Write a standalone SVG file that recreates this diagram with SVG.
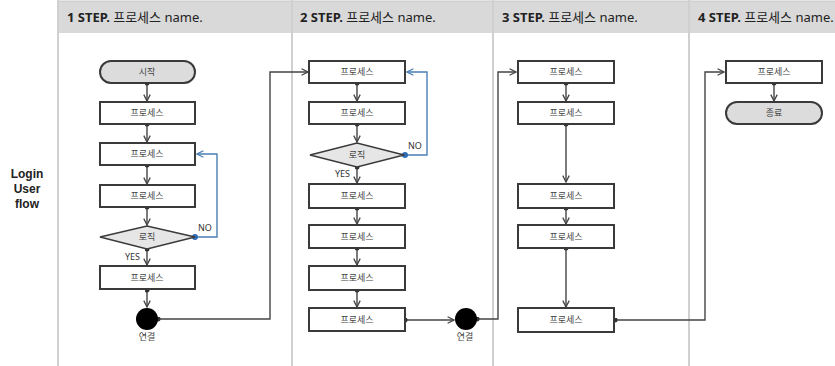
<svg xmlns="http://www.w3.org/2000/svg" width="835" height="366" viewBox="0 0 835 366">
<defs>
<style>
.hdr{fill:#d9d9d9}
.col{stroke:#d0d0d0;stroke-width:2;fill:none}
.ht{font-family:"Noto Sans","Noto Sans CJK KR",sans-serif;font-size:13px;fill:#222}
.ht .b{font-weight:bold}
.box{fill:#fff;stroke:#3a3a3a;stroke-width:2}
.term{fill:#dcdcdc;stroke:#3a3a3a;stroke-width:2}
.dia{fill:#e6e6e6;stroke:#3a3a3a;stroke-width:1.5}
.nt{font-family:"Noto Sans CJK KR","Noto Sans",sans-serif;font-size:9px;fill:#444;text-anchor:middle}
.lb{font-family:"Noto Sans","Noto Sans CJK KR",sans-serif;font-size:9px;fill:#333}
.side{font-family:"Liberation Sans",Arial,sans-serif;font-size:12px;font-weight:bold;fill:#222;text-anchor:middle}
.e{fill:none;stroke:#444;stroke-width:1.4;marker-start:url(#dot);marker-end:url(#arr)}
.eb{fill:none;stroke:#4a7fb5;stroke-width:1.4;marker-start:url(#dotb);marker-end:url(#arrb)}
.conn{fill:#000}
</style>
<marker id="dot" viewBox="0 0 8 8" refX="4" refY="4" markerWidth="5" markerHeight="5" markerUnits="userSpaceOnUse"><circle cx="4" cy="4" r="4" fill="#333"/></marker>
<marker id="dotb" viewBox="0 0 8 8" refX="4" refY="4" markerWidth="6" markerHeight="6" markerUnits="userSpaceOnUse"><circle cx="4" cy="4" r="4" fill="#2e6db4"/></marker>
<marker id="arr" viewBox="0 0 10 10" refX="9" refY="5" markerWidth="8" markerHeight="8" markerUnits="userSpaceOnUse" orient="auto"><path d="M1,1 L9,5 L1,9" fill="none" stroke="#444" stroke-width="1.6"/></marker>
<marker id="arrb" viewBox="0 0 10 10" refX="9" refY="5" markerWidth="8" markerHeight="8" markerUnits="userSpaceOnUse" orient="auto"><path d="M1,1 L9,5 L1,9" fill="none" stroke="#4a7fb5" stroke-width="1.6"/></marker>
</defs>
<rect width="835" height="366" fill="#fff"/>
<g id="header">
<rect class="hdr" x="58" y="1" width="777" height="32"/>
<line x1="58" y1="1" x2="835" y2="1" stroke="#c8c8c8" stroke-width="1"/>
<line class="col" x1="58" y1="0" x2="58" y2="366"/>
<line class="col" x1="292" y1="0" x2="292" y2="366"/>
<line class="col" x1="493" y1="0" x2="493" y2="366"/>
<line class="col" x1="689" y1="0" x2="689" y2="366"/>
<text class="ht" x="67" y="22"><tspan class="b">1 STEP.</tspan> 프로세스 name.</text>
<text class="ht" x="300" y="22"><tspan class="b">2 STEP.</tspan> 프로세스 name.</text>
<text class="ht" x="502" y="22"><tspan class="b">3 STEP.</tspan> 프로세스 name.</text>
<text class="ht" x="698" y="22"><tspan class="b">4 STEP.</tspan> 프로세스 name.</text>
<text class="side" x="27" y="178">Login</text>
<text class="side" x="27" y="193">User</text>
<text class="side" x="27" y="208">flow</text>
</g>
<g id="connectors">
<path class="e" d="M147,83 V101"/>
<path class="e" d="M147,124 V142"/>
<path class="e" d="M147,165 V184"/>
<path class="e" d="M147,207 V225"/>
<path class="e" d="M147,249 V265"/>
<path class="e" d="M147,290 V307"/>
<path class="eb" d="M195,237 H217 V154 H197"/>
<path class="e" d="M158,319 H270 V72 H308"/>
<path class="e" d="M357,83 V101"/>
<path class="e" d="M357,124 V142"/>
<path class="e" d="M357,167 V183"/>
<path class="e" d="M357,208 V224"/>
<path class="e" d="M357,248 V265"/>
<path class="e" d="M357,290 V307"/>
<path class="eb" d="M405,155 H427 V72 H407"/>
<path class="e" d="M405,320 H454"/>
<path class="e" d="M477,319 H498 V72 H516"/>
<path class="e" d="M566,83 V101"/>
<path class="e" d="M566,124 V182"/>
<path class="e" d="M566,208 V224"/>
<path class="e" d="M566,248 V307"/>
<path class="e" d="M615,320 H705 V72 H724"/>
<path class="e" d="M774,83 V101"/>
</g>
<g id="c1-start"><rect class="term" x="100" y="61" width="95" height="22" rx="11"/><text class="nt" x="147" y="75">시작</text></g>
<g id="c1-p1"><rect class="box" x="100" y="102" width="95" height="22"/><text class="nt" x="147" y="116">프로세스</text></g>
<g id="c1-p2"><rect class="box" x="100" y="143" width="95" height="22"/><text class="nt" x="147" y="157">프로세스</text></g>
<g id="c1-p3"><rect class="box" x="100" y="185" width="95" height="22"/><text class="nt" x="147" y="199">프로세스</text></g>
<g id="c1-logic"><polygon class="dia" points="100,237 147,226 195,237 147,249"/><text class="nt" x="147" y="240">로직</text><text class="lb" x="198" y="231">NO</text><text class="lb" x="125" y="260">YES</text></g>
<g id="c1-p4"><rect class="box" x="100" y="266" width="95" height="23"/><text class="nt" x="147" y="281">프로세스</text></g>
<g id="c1-link"><circle class="conn" cx="147" cy="319" r="11"/><text class="nt" x="147" y="340">연결</text></g>
<g id="c2-p1"><rect class="box" x="309" y="61" width="96" height="22"/><text class="nt" x="357" y="75">프로세스</text></g>
<g id="c2-p2"><rect class="box" x="309" y="102" width="96" height="22"/><text class="nt" x="357" y="116">프로세스</text></g>
<g id="c2-logic"><polygon class="dia" points="310,155 357,143 404,155 357,167"/><text class="nt" x="357" y="158">로직</text><text class="lb" x="408" y="149">NO</text><text class="lb" x="335" y="177">YES</text></g>
<g id="c2-p3"><rect class="box" x="309" y="184" width="96" height="24"/><text class="nt" x="357" y="199">프로세스</text></g>
<g id="c2-p4"><rect class="box" x="309" y="225" width="96" height="23"/><text class="nt" x="357" y="240">프로세스</text></g>
<g id="c2-p5"><rect class="box" x="309" y="266" width="96" height="24"/><text class="nt" x="357" y="281">프로세스</text></g>
<g id="c2-p6"><rect class="box" x="309" y="308" width="96" height="23"/><text class="nt" x="357" y="323">프로세스</text></g>
<g id="c2-link"><circle class="conn" cx="466" cy="319" r="11"/><text class="nt" x="465" y="340">연결</text></g>
<g id="c3-p1"><rect class="box" x="518" y="61" width="96" height="22"/><text class="nt" x="566" y="75">프로세스</text></g>
<g id="c3-p2"><rect class="box" x="518" y="102" width="96" height="22"/><text class="nt" x="566" y="116">프로세스</text></g>
<g id="c3-p3"><rect class="box" x="518" y="184" width="96" height="24"/><text class="nt" x="566" y="199">프로세스</text></g>
<g id="c3-p4"><rect class="box" x="518" y="225" width="96" height="23"/><text class="nt" x="566" y="240">프로세스</text></g>
<g id="c3-p5"><rect class="box" x="518" y="308" width="96" height="24"/><text class="nt" x="566" y="323">프로세스</text></g>
<g id="c4-p1"><rect class="box" x="726" y="61" width="96" height="22"/><text class="nt" x="774" y="75">프로세스</text></g>
<g id="c4-end"><rect class="term" x="726" y="102" width="96" height="22" rx="11"/><text class="nt" x="774" y="116">종료</text></g>
</svg>
